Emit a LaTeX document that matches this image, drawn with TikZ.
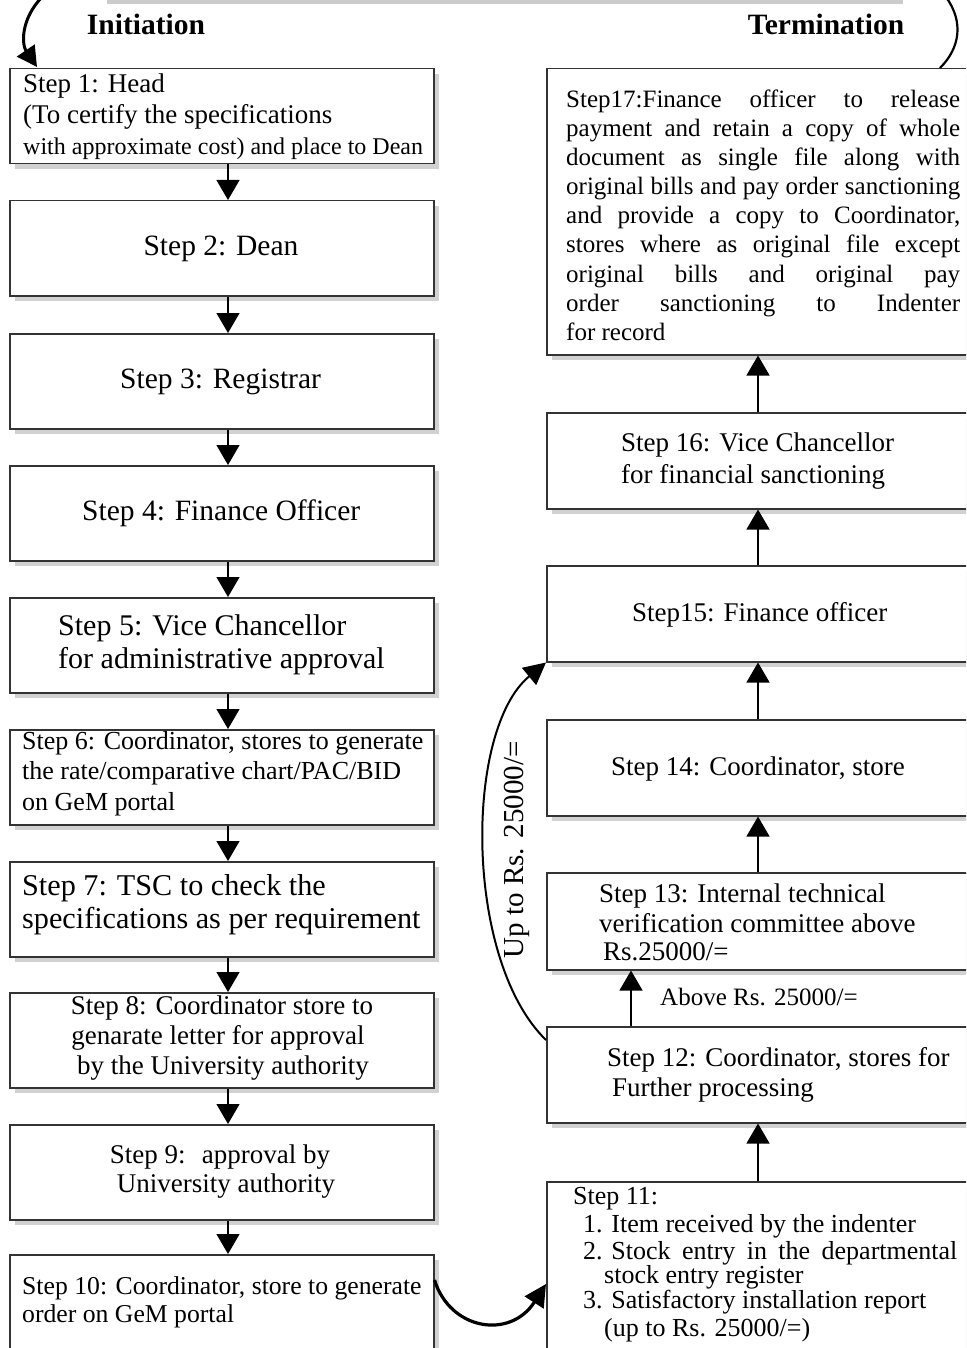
\documentclass[tikz,border=0pt]{standalone}
\usepackage{fontspec}
\setmainfont{Liberation Serif}
\usetikzlibrary{arrows.meta,shadows}
\newcommand\fs[1]{\fontsize{#1}{#1}\selectfont}
\newcommand\jline[1]{\makebox[394pt][s]{#1}}
\tikzset{
  box/.style={draw=black!80, line width=1.5pt, fill=white, inner sep=0pt, anchor=north west,
    drop shadow={shadow xshift=5pt, shadow yshift=-5pt, fill=black!18, opacity=1}},
  lbox/.style={box, minimum width=424pt, minimum height=95pt},
  rbox/.style={box, minimum width=430pt, minimum height=96pt},
  tx/.style={inner sep=0pt, anchor=base west},
  tc/.style={inner sep=0pt, anchor=base},
  flow/.style={line width=1.3pt, -{Triangle[width=23pt,length=20pt]}},
  curvearrow/.style={line width=2pt, -{Triangle[width=22pt,length=22pt]}},
}
\begin{document}
\begin{tikzpicture}[x=1pt,y=-1pt]
\useasboundingbox (0,0) rectangle (966,1348);
\clip (0,0) rectangle (966,1348);
\fill[black!20] (107,0) rectangle (903,4);
% left column boxes
\node[lbox] (b1) at (9,68) {};
\node[lbox] (b2) at (9,200) {};
\node[lbox] (b3) at (9,333) {};
\node[lbox] (b4) at (9,465) {};
\node[lbox] (b5) at (9,597) {};
\node[lbox] (b6) at (9,729) {};
\node[lbox] (b7) at (9,861) {};
\node[lbox] (b8) at (9,992) {};
\node[lbox] (b9) at (9,1124) {};
\node[lbox, minimum height=130pt] (b10) at (9,1254) {};
% right column boxes
\node[rbox, minimum height=286pt] (r17) at (546,68) {};
\node[rbox] (r16) at (546,412) {};
\node[rbox] (r15) at (546,565) {};
\node[rbox] (r14) at (546,719) {};
\node[rbox, minimum height=97pt] (r13) at (546,872) {};
\node[rbox] (r12) at (546,1026) {};
\node[rbox, minimum height=200pt] (r11) at (546,1181) {};
% axes for connectors
\coordinate (ax) at (228,0);
\coordinate (bx) at (758,0);
\coordinate (cx) at (631,0);
\foreach \a/\b in {b1/b2,b2/b3,b3/b4,b4/b5,b5/b6,b6/b7,b7/b8,b8/b9,b9/b10}
  \draw[flow] (\a.south -| ax) -- (\b.north -| ax);
\foreach \a/\b in {r11/r12,r13/r14,r14/r15,r15/r16,r16/r17}
  \draw[flow] (\a.north -| bx) -- (\b.south -| bx);
\draw[flow] (r12.north -| cx) -- (r13.south -| cx);
% curved connectors
\draw[curvearrow] ([yshift=-14pt]r12.north west) .. controls (464,960) and (464,730) .. (r15.south west);
\draw[line width=3.2pt, -{Triangle[width=22pt,length=22pt]}] ([yshift=-26pt]b10.north east) .. controls (450,1330) and (510,1340) .. ([yshift=-103pt]r11.north west);
\coordinate (tl) at (42,-3);
\coordinate (tr) at (946,-3);
\draw[line width=3pt, -{Triangle[width=21pt,length=20pt]}] (tl) .. controls (20,20) and (22,45) .. ([xshift=28pt,yshift=1pt]b1.north west);
\draw[line width=2.2pt] (tr) .. controls (964,22) and (960,48) .. ([xshift=394pt]r17.north west);
% titles
\node[tc,font={\fs{29.5}\bfseries}] (ini) at (146,35) {Initiation};
\node[tc,font={\fs{29.5}\bfseries}] (ter) at (826,35) {Termination};
% left texts
\node[tx,font=\fs{27}] (t1a) at (23,93) {Step 1: Head};
\node[tx,font=\fs{27}] (t1b) at (23,124) {(To certify the specifications};
\node[tx,font=\fs{24}] (t1c) at (23,155) {with approximate cost) and place to Dean};
\node[tc,font=\fs{29.5}] (t2) at (221,255) {Step 2: Dean};
\node[tx,font=\fs{29.5}] (t3) at (120,388) {Step 3: Registrar};
\node[tx,font=\fs{29.5}] (t4) at (82,520) {Step 4: Finance Officer};
\node[tx,font=\fs{30}] (t5a) at (58,635) {Step 5: Vice Chancellor};
\node[tx,font=\fs{30}] (t5b) at (58,668) {for administrative approval};
\node[tx,font=\fs{26}] (t6a) at (22,749) {Step 6: Coordinator, stores to generate};
\node[tx,font=\fs{26}] (t6b) at (22,779) {the rate/comparative chart/PAC/BID};
\node[tx,font=\fs{26}] (t6c) at (22,810) {on GeM portal};
\node[tx,font=\fs{30.2}] (t7a) at (22,895) {Step 7: TSC to check the};
\node[tx,font=\fs{30.2}] (t7b) at (22,928) {specifications as per requirement};
\node[tc,font=\fs{27}] (t8a) at (222,1014) {Step 8: Coordinator store to};
\node[tc,font=\fs{27}] (t8b) at (218,1044) {genarate letter for approval};
\node[tc,font=\fs{27}] (t8c) at (223,1074) {by the University authority};
\node[tc,font=\fs{27}] (t9a) at (220,1163) {Step 9:\hspace{0.6em}approval by};
\node[tc,font=\fs{27}] (t9b) at (226,1192) {University authority};
\node[tx,font=\fs{25.7}] (t10a) at (22,1294) {Step 10: Coordinator, store to generate};
\node[tx,font=\fs{25.7}] (t10b) at (22,1322) {order on GeM portal};
% right texts
\node[tx,font=\fs{25}] (t17a) at (566,108) {\jline{Step17:Finance officer to release}};
\node[tx,font=\fs{25}] (t17b) at (566,137) {\jline{payment and retain a copy of whole}};
\node[tx,font=\fs{25}] (t17c) at (566,166) {\jline{document as single file along with}};
\node[tx,font=\fs{25}] (t17d) at (566,195) {\jline{original bills and pay order sanctioning}};
\node[tx,font=\fs{25}] (t17e) at (566,224) {\jline{and provide a copy to Coordinator,}};
\node[tx,font=\fs{25}] (t17f) at (566,253) {\jline{stores where as original file except}};
\node[tx,font=\fs{25}] (t17g) at (566,282) {\jline{original bills and original pay}};
\node[tx,font=\fs{25}] (t17h) at (566,311) {\jline{order sanctioning to Indenter}};
\node[tx,font=\fs{25}] (t17i) at (566,340) {for record};
\node[tx,font=\fs{27}] (t16a) at (621,451) {Step 16: Vice Chancellor};
\node[tx,font=\fs{27}] (t16b) at (621,483) {for financial sanctioning};
\node[tx,font=\fs{27}] (t15) at (632,621) {Step15: Finance officer};
\node[tx,font=\fs{27}] (t14) at (611,775) {Step 14: Coordinator, store};
\node[tx,font=\fs{27}] (t13a) at (599,902) {Step 13: Internal technical};
\node[tx,font=\fs{27}] (t13b) at (599,932) {verification committee above};
\node[tx,font=\fs{27}] (t13c) at (603,960) {Rs.25000/=};
\node[tx,font=\fs{25}] (above) at (660,1005) {Above Rs. 25000/=};
\node[tx,font=\fs{27}] (t12a) at (607,1066) {Step 12: Coordinator, stores for};
\node[tx,font=\fs{27}] (t12b) at (612,1096) {Further processing};
\node[tx,font=\fs{26}] (t11a) at (573,1204) {Step 11:};
\node[tx,font=\fs{26}] (t11b) at (583,1232) {1. Item received by the indenter};
\node[tx,font=\fs{26}] (t11c) at (583,1259) {2. \makebox[346pt][s]{Stock entry in the departmental}};
\node[tx,font=\fs{26}] (t11d) at (604,1283) {stock entry register};
\node[tx,font=\fs{26}] (t11e) at (583,1308) {3. Satisfactory installation report};
\node[tx,font=\fs{26}] (t11f) at (604,1336) {(up to Rs. 25000/=)};
\node[font=\fs{29}, rotate=90, inner sep=0pt] (upto) at (517,850) {Up to Rs. 25000/=};
\end{tikzpicture}
\end{document}
